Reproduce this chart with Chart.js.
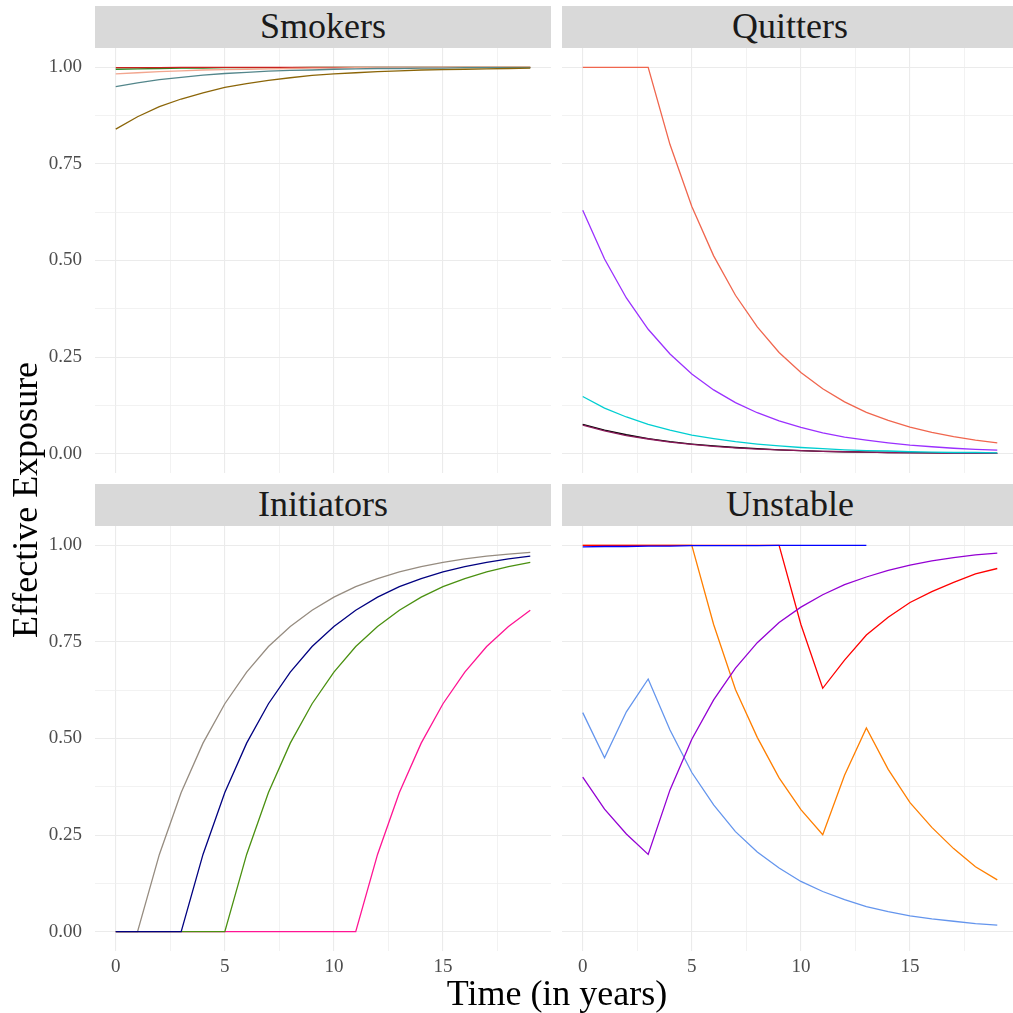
<!DOCTYPE html>
<html><head><meta charset="utf-8">
<script src="https://cdn.jsdelivr.net/npm/chart.js@4.4.1/dist/chart.umd.min.js"></script>
<style>
html,body{margin:0;padding:0;background:#fff;overflow:hidden;width:1013px;height:1013px;}
#wrap{position:relative;width:1013px;height:1013px;overflow:hidden;font-family:"Liberation Serif","Times New Roman",serif;}
canvas{position:absolute;}
.strip{position:absolute;background:#D9D9D9;color:#1A1A1A;font-size:36px;text-align:center;height:42px;line-height:40px;white-space:nowrap;}
.title{position:absolute;color:#000;font-size:36px;line-height:36px;text-align:center;white-space:nowrap;}
</style></head>
<body><div id="wrap">
<div class="strip" id="s0" style="left:95px;top:6px;width:456px;"></div>
<div class="strip" id="s1" style="left:562px;top:6px;width:456px;"></div>
<div class="strip" id="s2" style="left:95px;top:484px;width:456px;"></div>
<div class="strip" id="s3" style="left:562px;top:484px;width:456px;"></div>
<canvas id="c0"></canvas><canvas id="c1"></canvas><canvas id="c2"></canvas><canvas id="c3"></canvas>
<div class="title" id="xtitle" style="left:357px;top:975px;width:400px;"></div>
<div class="title" id="ytitle" style="left:-135px;top:482px;width:320px;height:36px;transform:rotate(-90deg);transform-origin:50% 50%;"></div>
</div>
<script>
// ---------- data ----------
const years = [0,1,2,3,4,5,6,7,8,9,10,11,12,13,14,15,16,17,18,19];
const facetNames = ['Smokers','Quitters','Initiators','Unstable'];
const xAxisTitle = 'Time (in years)';
const yAxisTitle = 'Effective Exposure';
const xTickValues = [0,2.5,5,7.5,10,12.5,15,17.5];
const xTickLabels = ['0','','5','','10','','15',''];
const yTickValues = [0,0.125,0.25,0.375,0.5,0.625,0.75,0.875,1];
const yTickLabels = ['0.00','','0.25','','0.50','','0.75','','1.00'];

// Smokers
const smkBrown  = [0.840,0.872,0.898,0.918,0.934,0.948,0.958,0.966,0.973,0.979,0.983,0.986,0.989,0.991,0.993,0.994,0.995,0.996,0.997,0.998];
const smkTeal   = [0.950,0.960,0.968,0.974,0.980,0.984,0.987,0.990,0.992,0.993,0.995,0.996,0.997,0.997,0.998,0.998,0.999,0.999,0.999,0.999];
const smkSalmon = [0.983,0.986,0.989,0.991,0.993,0.994,0.995,0.996,0.997,0.998,0.998,0.999,0.999,0.999,0.999,1.000,1.000,1.000,1.000,1.000];
const smkGreen  = [0.995,0.996,0.997,0.998,0.998,0.999,0.999,0.999,0.999,1.000,1.000,1.000,1.000,1.000,1.000,1.000,1.000,1.000,1.000,1.000];
const smkRed    = [0.999,0.999,0.999,1.000,1.000,1.000,1.000,1.000,1.000,1.000,1.000,1.000,1.000,1.000,1.000,1.000,1.000,1.000,1.000,1.000];
// Quitters
const qutTomato = [1,1,1,1,0.800,0.640,0.512,0.410,0.328,0.262,0.210,0.168,0.134,0.107,0.086,0.069,0.055,0.044,0.035,0.028];
const qutPurple = [0.630,0.504,0.403,0.322,0.258,0.206,0.165,0.132,0.106,0.085,0.068,0.054,0.043,0.035,0.028,0.022,0.018,0.014,0.011,0.009];
const qutCyan   = [0.148,0.118,0.095,0.076,0.061,0.048,0.039,0.031,0.025,0.020,0.016,0.013,0.010,0.008,0.007,0.005,0.004,0.003,0.003,0.002];
const qutBlack  = [0.076,0.061,0.049,0.039,0.031,0.025,0.020,0.016,0.013,0.010,0.008,0.006,0.005,0.004,0.003,0.003,0.002,0.002,0.001,0.001];
const qutMaroon = [0.074,0.059,0.047,0.038,0.030,0.024,0.019,0.015,0.012,0.010,0.008,0.006,0.005,0.004,0.003,0.002,0.002,0.001,0.001,0.001];
// Initiators
const iniGray  = [0,0,0.200,0.360,0.488,0.590,0.672,0.738,0.790,0.832,0.866,0.893,0.914,0.931,0.945,0.956,0.965,0.972,0.977,0.982];
const iniNavy  = [0,0,0,0,0.200,0.360,0.488,0.590,0.672,0.738,0.790,0.832,0.866,0.893,0.914,0.931,0.945,0.956,0.965,0.972];
const iniGreen = [0,0,0,0,0,0,0.200,0.360,0.488,0.590,0.672,0.738,0.790,0.832,0.866,0.893,0.914,0.931,0.945,0.956];
const iniPink  = [0,0,0,0,0,0,0,0,0,0,0,0,0.200,0.360,0.488,0.590,0.672,0.738,0.790,0.832];
// Unstable
const unsBlue   = [0.996,0.997,0.997,0.998,0.998,0.999,0.999,0.999,0.999,1.000,1.000,1.000,1.000,1.000];
const unsViolet = [0.400,0.317,0.253,0.200,0.367,0.498,0.600,0.682,0.748,0.800,0.840,0.872,0.898,0.918,0.935,0.949,0.960,0.968,0.975,0.980];
const unsCorn   = [0.567,0.450,0.569,0.654,0.522,0.412,0.328,0.259,0.206,0.165,0.130,0.104,0.083,0.065,0.052,0.041,0.033,0.027,0.021,0.017];
const unsRed    = [1,1,1,1,1,1,1,1,1,1,0.795,0.630,0.703,0.768,0.814,0.852,0.880,0.904,0.926,0.940];
const unsOrange = [1,1,1,1,1,1,0.795,0.627,0.503,0.398,0.316,0.251,0.405,0.527,0.420,0.334,0.270,0.215,0.168,0.134];

// ---------- styles ----------
const panelSeries = [
  [[smkBrown,'#8B6508'],[smkTeal,'#53868B'],[smkSalmon,'#F2A68F'],[smkRed,'#C8201E'],[smkGreen,'#228B22']],
  [[qutTomato,'#F0664E'],[qutPurple,'#9B30FF'],[qutCyan,'#00CED1'],[qutMaroon,'#8B1A5A'],[qutBlack,'#000000']],
  [[iniNavy,'#000080'],[iniGreen,'#4A9010'],[iniPink,'#FF1493'],[iniGray,'#968C80']],
  [[unsBlue,'#0000FF'],[unsViolet,'#9400D3'],[unsCorn,'#6495ED'],[unsRed,'#FF0000'],[unsOrange,'#FF7F00']]
];
const panelBoxes = [
  {left:0,   top:48,  width:551, height:425, yW:95, xH:0,  showY:true,  showX:false},
  {left:562, top:48,  width:456, height:425, yW:0,  xH:0,  showY:false, showX:false},
  {left:0,   top:526, width:551, height:465, yW:95, xH:40, showY:true,  showX:true},
  {left:562, top:526, width:456, height:465, yW:0,  xH:40, showY:false, showX:true}
];
const FONT = '"Liberation Serif","Times New Roman",serif';

facetNames.forEach((n,i)=>{ document.getElementById('s'+i).textContent = n; });
document.getElementById('xtitle').textContent = xAxisTitle;
document.getElementById('ytitle').textContent = yAxisTitle;

function zeroPad(a){ a.paddingLeft=0; a.paddingRight=0; a.paddingTop=0; a.paddingBottom=0; }
const gridColor = ctx => ctx.index % 2 === 0 ? '#EBEBEB' : '#EFEFEF';
const gridWidth = ctx => ctx.index % 2 === 0 ? 1.1 : 0.8;

panelBoxes.forEach((b,i)=>{
  const cv = document.getElementById('c'+i);
  cv.width = b.width; cv.height = b.height;
  cv.style.left = b.left+'px'; cv.style.top = b.top+'px';
  cv.style.width = b.width+'px'; cv.style.height = b.height+'px';
  const datasets = panelSeries[i].map(([vals,col])=>({
    data: vals.map((v,k)=>({x:years[k], y:v})),
    borderColor: col, backgroundColor: col, borderWidth: 1.3,
    pointRadius: 0, tension: 0, fill: false
  }));
  new Chart(cv, {
    type:'line',
    data:{datasets},
    options:{
      responsive:false, animation:false, devicePixelRatio:1,
      layout:{padding:0},
      plugins:{legend:{display:false}, tooltip:{enabled:false}},
      scales:{
        x:{type:'linear', min:-0.95, max:19.95,
          border:{display:false},
          grid:{drawTicks:false, color:gridColor, lineWidth:gridWidth},
          ticks:{display:b.showX, padding:5, color:'#4D4D4D', font:{family:FONT,size:19},
                 autoSkip:false, maxRotation:0, minRotation:0,
                 callback:(v,idx)=>xTickLabels[idx]},
          afterBuildTicks:a=>{ a.ticks = xTickValues.map(v=>({value:v})); },
          afterFit:a=>{ a.height = b.xH; zeroPad(a); }
        },
        y:{type:'linear', min:-0.05, max:1.05,
          border:{display:false},
          grid:{drawTicks:false, color:gridColor, lineWidth:gridWidth},
          ticks:{display:b.showY, padding:13, color:'#4D4D4D', font:{family:FONT,size:19},
                 autoSkip:false, callback:(v,idx)=>yTickLabels[idx]},
          afterBuildTicks:a=>{ a.ticks = yTickValues.map(v=>({value:v})); },
          afterFit:a=>{ a.width = b.yW; zeroPad(a); }
        }
      }
    }
  });
});
</script>
</body></html>
